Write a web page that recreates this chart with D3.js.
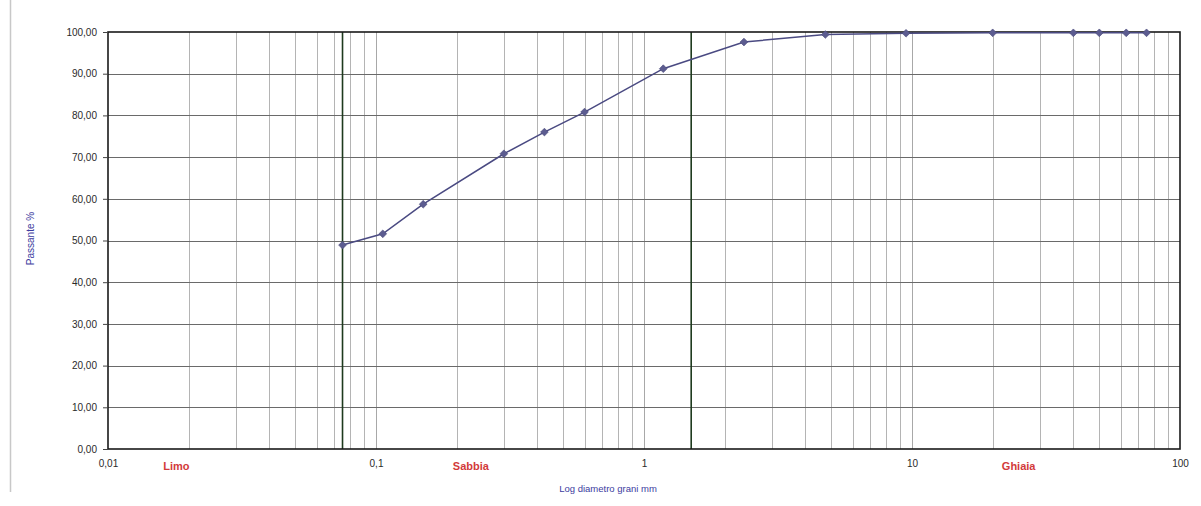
<!DOCTYPE html>
<html>
<head>
<meta charset="utf-8">
<script src="https://cdn.jsdelivr.net/npm/d3@7/dist/d3.min.js"></script>
<style>
  html, body { margin: 0; padding: 0; background: #ffffff; }
  svg { display: block; }
</style>
</head>
<body>
<svg id="chart" width="1201" height="506"></svg>
<script>
// Grain size distribution (curva granulometrica)
const diametri = [0.075, 0.106, 0.15, 0.3, 0.425, 0.6, 1.18, 2.36, 4.75, 9.5, 20, 40, 50, 63, 75];
const passante = [48.9, 51.6, 58.7, 70.8, 76.0, 80.8, 91.2, 97.6, 99.4, 99.7, 99.8, 99.8, 99.8, 99.8, 99.8];

// Class boundaries drawn as heavy verticals
const limitiClassi = [0.075, 1.5];

// Axis ticks and labels
const xTickValues = [0.01, 0.1, 1, 10, 100];
const xTickLabels = ["0,01", "0,1", "1", "10", "100"];
const yTickValues = [0, 10, 20, 30, 40, 50, 60, 70, 80, 90, 100];

// Soil class names along the bottom
const classi = ["Limo", "Sabbia", "Ghiaia"];
const classiPos = [0.018, 0.226, 25];

const svg = d3.select("#chart");
const margin = { left: 108, right: 21, top: 32, bottom: 57 };
const W = 1201, H = 506;
const font = "Arial, 'Liberation Sans', sans-serif";

const x = d3.scaleLog().domain([0.01, 100]).range([margin.left, W - margin.right]);
const y = d3.scaleLinear().domain([0, 100]).range([H - margin.bottom, margin.top]);

// outer frame line on the left of the chart area
svg.append("line")
  .attr("x1", 10.5).attr("x2", 10.5).attr("y1", 0).attr("y2", 492)
  .attr("stroke", "#c8c8c8").attr("stroke-width", 1.5);

// minor log gridlines
const minor = [];
for (let e = -2; e < 2; e++) {
  for (let m = 2; m <= 9; m++) minor.push(m * Math.pow(10, e));
}
svg.append("g").selectAll("line").data(minor).join("line")
  .attr("x1", d => Math.round(x(d)) + 0.5).attr("x2", d => Math.round(x(d)) + 0.5)
  .attr("y1", y(100)).attr("y2", y(0))
  .attr("stroke", "#b4b4b4").attr("stroke-width", 1);

// decade gridlines
svg.append("g").selectAll("line").data([0.1, 1, 10]).join("line")
  .attr("x1", d => Math.round(x(d)) + 0.5).attr("x2", d => Math.round(x(d)) + 0.5)
  .attr("y1", y(100)).attr("y2", y(0))
  .attr("stroke", "#a8a8a8").attr("stroke-width", 1);

// horizontal gridlines
svg.append("g").selectAll("line").data(yTickValues.filter(v => v > 0 && v < 100)).join("line")
  .attr("x1", x(0.01)).attr("x2", x(100))
  .attr("y1", d => Math.round(y(d)) + 0.5).attr("y2", d => Math.round(y(d)) + 0.5)
  .attr("stroke", "#6a6a6a").attr("stroke-width", 1);

// class boundaries
svg.append("g").selectAll("line").data(limitiClassi).join("line")
  .attr("x1", d => x(d)).attr("x2", d => x(d))
  .attr("y1", y(100)).attr("y2", y(0))
  .attr("stroke", "#1e3a1e").attr("stroke-width", 1.6);

// plot frame
svg.append("rect")
  .attr("x", x(0.01)).attr("y", y(100))
  .attr("width", x(100) - x(0.01)).attr("height", y(0) - y(100))
  .attr("fill", "none").attr("stroke", "#1a1a1a").attr("stroke-width", 1.6);

// y axis
const yAxis = d3.axisLeft(y).tickValues(yTickValues).tickSize(5).tickSizeOuter(0)
  .tickFormat(d => d3.format(".2f")(d).replace(".", ","));
const gy = svg.append("g").attr("transform", `translate(${x(0.01)},0)`).call(yAxis);
gy.select(".domain").remove();
gy.selectAll("line").attr("stroke", "#444");
gy.selectAll("text").attr("font-family", font)
  .attr("font-size", 10).attr("fill", "#2a2a2a").attr("x", -11);

// x axis
const xAxis = d3.axisBottom(x).tickValues(xTickValues).tickSize(0)
  .tickFormat((d, i) => xTickLabels[i]);
const gx = svg.append("g").attr("transform", `translate(0,${y(0)})`).call(xAxis);
gx.select(".domain").remove();
gx.selectAll("text").attr("font-family", font)
  .attr("font-size", 10).attr("fill", "#2a2a2a").attr("y", 11).attr("dy", "0.71em");

// class labels
svg.append("g").selectAll("text").data(classi).join("text")
  .attr("x", (d, i) => x(classiPos[i])).attr("y", y(0) + 21)
  .attr("text-anchor", "middle")
  .attr("font-family", font)
  .attr("font-size", 11).attr("font-weight", "bold").attr("fill", "#d23a3a")
  .text(d => d);

// axis titles
svg.append("text")
  .attr("x", 608).attr("y", y(0) + 43)
  .attr("text-anchor", "middle")
  .attr("font-family", font)
  .attr("font-size", 9.5).attr("fill", "#3c3ca0")
  .text("Log diametro grani mm");

svg.append("text")
  .attr("transform", `translate(34,${y(50) - 2}) rotate(-90)`)
  .attr("text-anchor", "middle")
  .attr("font-family", font)
  .attr("font-size", 10).attr("fill", "#3c3ca0")
  .text("Passante %");

// curve
const pts = diametri.map((d, i) => [d, passante[i]]);
svg.append("path")
  .datum(pts)
  .attr("fill", "none").attr("stroke", "#4a4a82").attr("stroke-width", 1.5)
  .attr("d", d3.line().x(d => x(d[0])).y(d => y(d[1])));

svg.append("g").selectAll("path").data(pts).join("path")
  .attr("transform", d => `translate(${x(d[0])},${y(d[1])}) rotate(45)`)
  .attr("d", d3.symbol().type(d3.symbolSquare).size(30))
  .attr("fill", "#5c5c90").attr("stroke", "#4a4a7a").attr("stroke-width", 0.6);
</script>
</body>
</html>
